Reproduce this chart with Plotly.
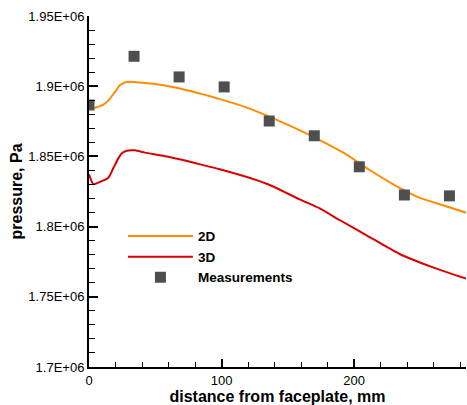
import numpy as np
import plotly.graph_objects as go

# Measured wall pressure along the chamber
meas_x = [0, 34, 68, 102, 136, 170, 204, 238, 272]
meas_p = [1.8866e6, 1.9213e6, 1.9066e6, 1.8995e6, 1.8752e6, 1.8647e6, 1.8426e6, 1.8225e6, 1.8219e6]

# 2D simulation
sim2d_x = [0, 4.5, 8.3, 12.1, 15.8, 19.6, 23.4, 27.1, 30.9, 37.2, 47.2, 57.3, 78, 98.7,
           117.6, 136.4, 155.2, 174.1, 192.9, 211.8, 230.6, 249.4, 268.3, 284.6]
sim2d_p = [1.8849e6, 1.8847e6, 1.8858e6, 1.8877e6, 1.8912e6, 1.8960e6, 1.9007e6, 1.9026e6,
           1.9031e6, 1.9027e6, 1.9019e6, 1.9005e6, 1.8962e6, 1.8908e6, 1.8853e6, 1.8782e6,
           1.8703e6, 1.8616e6, 1.8521e6, 1.8403e6, 1.8296e6, 1.8206e6, 1.8149e6, 1.8099e6]

# 3D simulation
sim3d_x = [0, 3.3, 8.3, 14.6, 18.3, 22.1, 24.6, 28.4, 34.7, 42.2, 60, 86.1, 98.7, 126.4,
           136.4, 159, 174.1, 189.1, 209.2, 234.4, 259.5, 284.6]
sim3d_p = [1.8372e6, 1.8303e6, 1.8319e6, 1.8348e6, 1.8415e6, 1.8486e6, 1.8521e6, 1.8540e6,
           1.8543e6, 1.8527e6, 1.8497e6, 1.8438e6, 1.8408e6, 1.8331e6, 1.8296e6, 1.8194e6,
           1.8130e6, 1.8047e6, 1.7940e6, 1.7805e6, 1.7710e6, 1.7630e6]

y_ticks = [1.70e6, 1.75e6, 1.80e6, 1.85e6, 1.90e6, 1.95e6]
y_labels = ["1.7E+06", "1.75E+06", "1.8E+06", "1.85E+06", "1.9E+06", "1.95E+06"]
x_ticks = [0, 100, 200]
x_labels = ["0", "100", "200"]

FONT = "Liberation Sans, Arial, Helvetica, sans-serif"

fig = go.Figure()
fig.add_trace(go.Scatter(x=sim2d_x, y=sim2d_p, mode="lines", name="2D",
                         line=dict(color="#ff8c00", width=2, shape="spline", smoothing=0.6)))
fig.add_trace(go.Scatter(x=sim3d_x, y=sim3d_p, mode="lines", name="3D",
                         line=dict(color="#d90000", width=2, shape="spline", smoothing=0.6)))
fig.add_trace(go.Scatter(x=meas_x, y=meas_p, mode="markers", name="Measurements",
                         marker=dict(symbol="square", size=11, color="#4f4f4f")))

fig.update_layout(
    width=467, height=405,
    margin=dict(l=89, r=1, t=16, b=38),
    paper_bgcolor="white", plot_bgcolor="white",
    font=dict(family=FONT, color="black", size=13),
    showlegend=True,
    legend=dict(x=0.09, y=0.4164, xanchor="left", yanchor="top",
                bgcolor="rgba(0,0,0,0)", borderwidth=0,
                font=dict(family=FONT, size=13.5, weight="bold"),
                tracegroupgap=0, itemwidth=65),
    xaxis=dict(range=[0, 284.5], showgrid=False, zeroline=False,
               showline=True, linecolor="black", linewidth=2,
               tickmode="array", tickvals=x_ticks, ticktext=x_labels,
               ticks="inside", ticklen=8, tickwidth=2, tickcolor="black",
               minor=dict(tickvals=list(np.arange(0, 285, 20)), ticks="inside",
                          ticklen=5, tickwidth=1, tickcolor="black"),
               tickfont=dict(size=13),
               title=dict(text="distance from faceplate, mm",
                          font=dict(size=16, weight="bold"), standoff=2)),
    yaxis=dict(range=[1.70e6, 1.95e6], showgrid=False, zeroline=False,
               showline=True, linecolor="black", linewidth=2,
               tickmode="array", tickvals=y_ticks, ticktext=y_labels,
               ticks="inside", ticklen=9, tickwidth=2, tickcolor="black",
               minor=dict(tickvals=list(np.arange(1.70e6, 1.9501e6, 1.0e4)), ticks="inside",
                          ticklen=6, tickwidth=1, tickcolor="black"),
               tickfont=dict(size=13)),
)

# Vertical axis title, placed to the left of the tick labels
fig.add_annotation(text="pressure, Pa", xref="paper", yref="paper",
                   x=-0.191, y=0.5, xanchor="center", yanchor="middle",
                   textangle=-90, showarrow=False,
                   font=dict(family=FONT, size=16, weight="bold", color="black"))

fig.write_html("out.html")
